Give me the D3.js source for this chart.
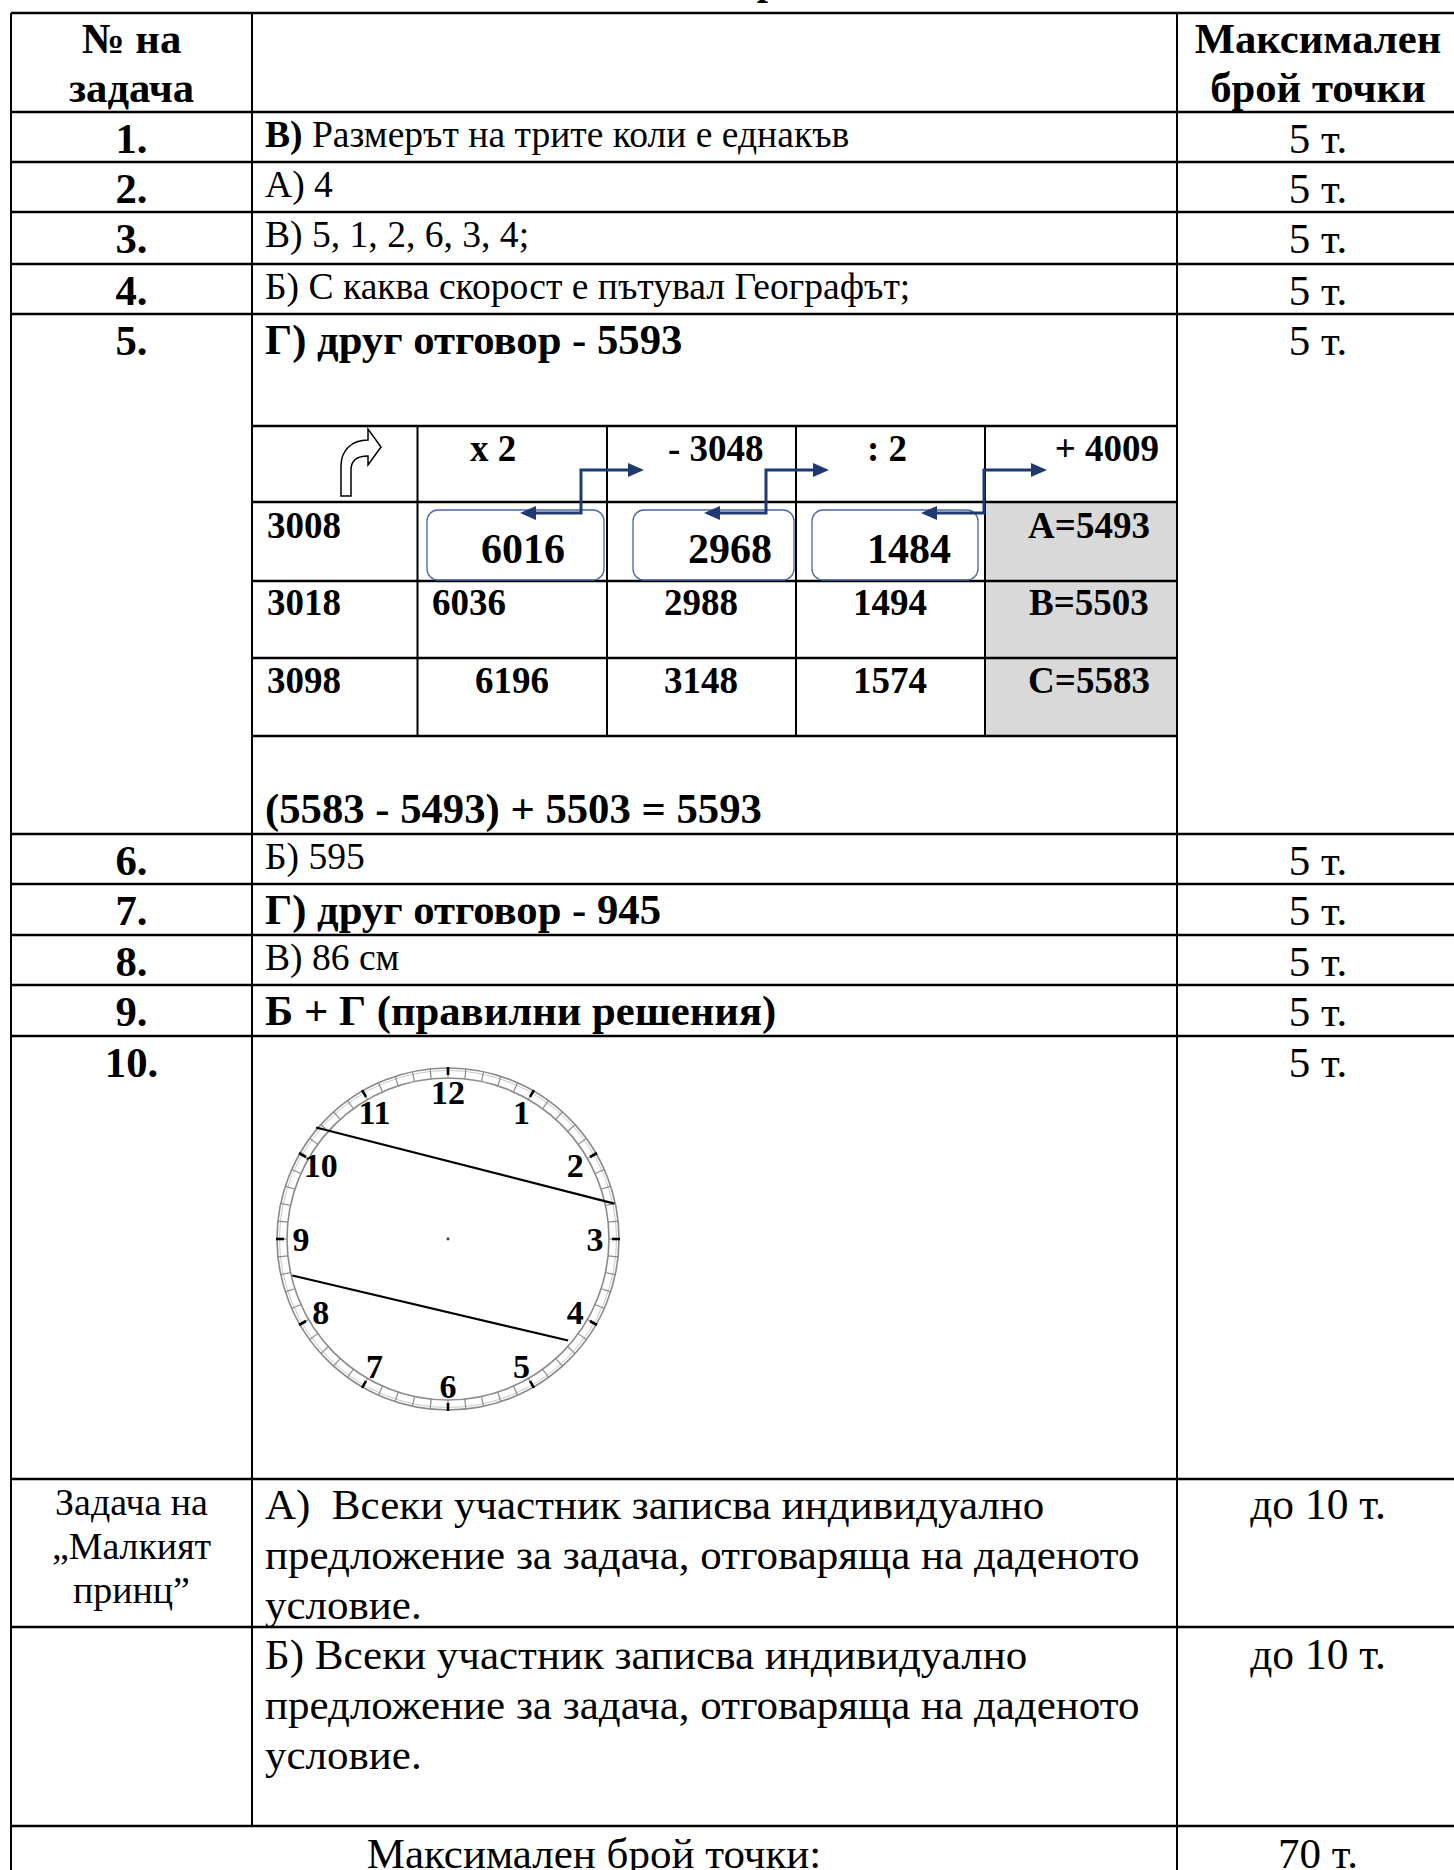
<!DOCTYPE html>
<html><head><meta charset="utf-8">
<script src="https://cdn.jsdelivr.net/npm/d3@7"></script>
<style>
html,body{margin:0;padding:0;background:#fff;overflow:hidden}
svg{display:block}
text{font-family:"Liberation Serif","Times New Roman",serif;white-space:pre;fill:#000}
</style>
</head><body><svg id="c"></svg>
<script>
// ---------------- DATA ----------------
const titleText = "Отговори";
const headerLeft = ["№ на", "задача"];
const headerRight = ["Максимален", "брой точки"];
const taskLabels = ["1.", "2.", "3.", "4.", "5.", "6.", "7.", "8.", "9.", "10."];
const answers = [
  [["В)", true], [" Размерът на трите коли е еднакъв", false]],
  [["А) 4", false]],
  [["В) 5, 1, 2, 6, 3, 4;", false]],
  [["Б) С каква скорост е пътувал Географът;", false]],
  [["Г) друг отговор - 5593", true]],
  [["Б) 595", false]],
  [["Г) друг отговор - 945", true]],
  [["В) 86 см", false]],
  [["Б + Г (правилни решения)", true]],
  []
];
const taskPoints = ["5 т.", "5 т.", "5 т.", "5 т.", "5 т.", "5 т.", "5 т.", "5 т.", "5 т.", "5 т."];
const equation = "(5583 - 5493) + 5503 = 5593";
const operations = ["x 2", "- 3048", ": 2", "+ 4009"];
const startValues = ["3008", "3018", "3098"];
const doubledValues = ["6016", "6036", "6196"];
const subtractedValues = ["2968", "2988", "3148"];
const halvedValues = ["1484", "1494", "1574"];
const resultValues = ["A=5493", "B=5503", "C=5583"];
const clockHours = [1, 2, 3, 4, 5, 6, 7, 8, 9, 10, 11, 12];
const chordStartMinute = [51.7, 42.8];
const chordEndMinute = [13.0, 21.7];
const bonusLabel = ["Задача на", "„Малкият", "принц”"];
const bonusA = ["А)  Всеки участник записва индивидуално", "предложение за задача, отговаряща на даденото", "условие."];
const bonusB = ["Б) Всеки участник записва индивидуално", "предложение за задача, отговаряща на даденото", "условие."];
const bonusPoints = ["до 10 т.", "до 10 т."];
const totalLabel = "Максимален брой точки:";
const totalPoints = "70 т.";

// ---------------- LAYOUT ----------------
const W = 1454, H = 1870;
const colX = [11, 252, 1177, 1459];
const rowY = [13, 112, 162, 212, 264, 314, 834, 884, 935, 985, 1036, 1479, 1627, 1826, 1900];
const c0 = (colX[0] + colX[1]) / 2, c2 = 1318, textX = 265;
const innerCols = [252, 417.5, 607, 796, 985, 1176];
const innerRows = [426, 502, 581, 658, 736];
const fsReg = 37.6, fsBold = 42.7, fsBig = 43;

const svg = d3.select("#c").attr("width", W).attr("height", H);
svg.append("rect").attr("width", W).attr("height", H).attr("fill", "#fff");

function txt(g, x, y, s, size, bold, anchor) {
  return g.append("text").attr("x", x).attr("y", y)
    .attr("font-size", size).attr("font-weight", bold ? "bold" : "normal")
    .attr("text-anchor", anchor || "start").text(s);
}

// title (cut off at top, as in the reference)
const tt = txt(svg, 0, -6, titleText, 40, true, "start");
(function () {
  const n = tt.node();
  const idx = titleText.indexOf("р");
  const off = n.getSubStringLength(0, idx) + n.getSubStringLength(idx, 1) / 2;
  tt.attr("x", 768 - off);
})();

// ---- inner table shading
const ix = d3.scaleOrdinal().domain(d3.range(innerCols.length)).range(innerCols);
const iy = d3.scaleOrdinal().domain(d3.range(innerRows.length)).range(innerRows);
svg.append("g").selectAll("rect").data(resultValues).join("rect")
  .attr("x", ix(4)).attr("y", (d, i) => iy(i + 1))
  .attr("width", ix(5) - ix(4)).attr("height", (d, i) => iy(i + 2) - iy(i + 1))
  .attr("fill", "#d9d9d9");

// ---- outer grid
const grid = svg.append("g").attr("stroke", "#000");
grid.selectAll("line.h").data(rowY.slice(0, -1)).join("line").attr("class", "h")
  .attr("x1", colX[0]).attr("x2", colX[3]).attr("y1", d => d).attr("y2", d => d)
  .attr("stroke-width", 2.6);
const vlines = [[colX[0], rowY[0], H], [colX[1], rowY[0], rowY[13]], [colX[2], rowY[0], H]];
grid.selectAll("line.v").data(vlines).join("line").attr("class", "v")
  .attr("x1", d => d[0]).attr("x2", d => d[0]).attr("y1", d => d[1]).attr("y2", d => d[2])
  .attr("stroke-width", 2);

// ---- inner grid
const ig = svg.append("g").attr("stroke", "#000");
ig.selectAll("line.h").data(innerRows).join("line").attr("class", "h")
  .attr("x1", innerCols[0]).attr("x2", innerCols[5]).attr("y1", d => d).attr("y2", d => d)
  .attr("stroke-width", 2.4);
ig.selectAll("line.v").data(innerCols.slice(1, 5)).join("line").attr("class", "v")
  .attr("x1", d => d).attr("x2", d => d).attr("y1", innerRows[0]).attr("y2", innerRows[4])
  .attr("stroke-width", 2);

// ---- header
const T = svg.append("g");
headerLeft.forEach((s, i) => txt(T, c0, 53 + i * 49, s, fsBold, true, "middle"));
headerRight.forEach((s, i) => txt(T, c2, 53 + i * 49, s, fsBold, true, "middle"));

// ---- task rows
taskLabels.forEach((s, i) => {
  const top = rowY[i + 1];
  txt(T, c0, top + 41, s, fsBold, true, "middle");
  txt(T, c2, top + 41, taskPoints[i], fsBig, false, "middle");
  const segs = answers[i];
  if (segs.length) {
    const allBold = segs.every(d => d[1]);
    const t = T.append("text").attr("x", textX).attr("y", top + (allBold ? 40 : 35))
      .attr("font-size", allBold ? fsBold : fsReg);
    segs.forEach(d => t.append("tspan").attr("font-weight", d[1] ? "bold" : "normal").text(d[0]));
  }
});
txt(T, textX, 823, equation, fsBold, true, "start");

// ---- inner table contents
const I = svg.append("g");
const opAnchor = [["start", 470], ["start", 668], ["middle", 887], ["end", 1159]];
operations.forEach((s, i) => txt(I, opAnchor[i][1], 461, s, 37, true, opAnchor[i][0]));
const rowBase = [538, 615, 693];
startValues.forEach((s, i) => txt(I, ix(0) + 15, rowBase[i], s, 37, true, "start"));
resultValues.forEach((s, i) => txt(I, 1089, rowBase[i], s, 37, true, "middle"));
// row 1 boxed values
const boxes = [[427, 604], [633, 794], [812, 978]];
I.selectAll("rect.box").data(boxes).join("rect").attr("class", "box")
  .attr("x", d => d[0]).attr("y", 510).attr("width", d => d[1] - d[0]).attr("height", 70)
  .attr("rx", 11).attr("fill", "none").attr("stroke", "#4468a8").attr("stroke-width", 1.3);
const boxedCenters = [523, 730, 909];
[doubledValues[0], subtractedValues[0], halvedValues[0]].forEach((s, i) =>
  txt(I, boxedCenters[i], 563, s, 42, true, "middle"));
txt(I, 432, rowBase[1], doubledValues[1], 37, true, "start");
txt(I, 512, rowBase[2], doubledValues[2], 37, true, "middle");
[subtractedValues, halvedValues].forEach((arr, k) => {
  [1, 2].forEach(r => txt(I, [701, 890][k], rowBase[r], arr[r], 37, true, "middle"));
});

// connector arrows
const arrows = [[520, 581, 644], [704, 766, 829], [921, 984, 1047]];
const yLow = 513, yHigh = 470, navy = "#1f3a70";
arrows.forEach(a => {
  I.append("path").attr("d", `M${a[0] + 12},${yLow}H${a[1]}V${yHigh}H${a[2] - 12}`)
    .attr("fill", "none").attr("stroke", navy).attr("stroke-width", 3);
  I.append("path").attr("d", `M${a[0]},${yLow}L${a[0] + 16},${yLow - 7}L${a[0] + 16},${yLow + 7}Z`).attr("fill", navy);
  I.append("path").attr("d", `M${a[2]},${yHigh}L${a[2] - 16},${yHigh - 7}L${a[2] - 16},${yHigh + 7}Z`).attr("fill", navy);
});
// turn-right arrow icon
I.append("path").attr("transform", "translate(318,420)")
  .attr("d", "M23,76L23,46C23,30,34,20,50,20L50,9L63,27L50,45L50,36C40,36,33,40,33,50L33,76Z")
  .attr("fill", "#fff").attr("stroke", "#000").attr("stroke-width", 1.5).attr("stroke-linejoin", "miter");

// ---- clock
const cx = 448, cy = 1239, R = 171;
const ang = d3.scaleLinear().domain([0, 60]).range([0, 2 * Math.PI]);
const pt = (m, r) => [cx + r * Math.sin(ang(m)), cy - r * Math.cos(ang(m))];
const C = svg.append("g");
C.append("circle").attr("cx", cx).attr("cy", cy).attr("r", R).attr("fill", "none").attr("stroke", "#8a8a8a").attr("stroke-width", 1.6);
C.append("circle").attr("cx", cx).attr("cy", cy).attr("r", R - 2.5).attr("fill", "none").attr("stroke", "#c8c8c8").attr("stroke-width", 1);
C.append("circle").attr("cx", cx).attr("cy", cy).attr("r", R - 10).attr("fill", "none").attr("stroke", "#8a8a8a").attr("stroke-width", 1.6);
C.selectAll("line.m").data(d3.range(60)).join("line").attr("class", "m")
  .attr("x1", d => pt(d, R - 10)[0]).attr("y1", d => pt(d, R - 10)[1])
  .attr("x2", d => pt(d, R)[0]).attr("y2", d => pt(d, R)[1])
  .attr("stroke", "#8a8a8a").attr("stroke-width", 1.2);
C.selectAll("line.hr").data(clockHours).join("line").attr("class", "hr")
  .attr("x1", d => pt(d * 5, R - 7)[0]).attr("y1", d => pt(d * 5, R - 7)[1])
  .attr("x2", d => pt(d * 5, R + 1)[0]).attr("y2", d => pt(d * 5, R + 1)[1])
  .attr("stroke", "#000").attr("stroke-width", 2.6);
C.selectAll("text").data(clockHours).join("text")
  .attr("x", d => pt(d * 5, 147)[0]).attr("y", d => pt(d * 5, 147)[1])
  .attr("dy", "0.35em").attr("text-anchor", "middle")
  .attr("font-size", 34).attr("font-weight", "bold").text(d => d);
C.append("circle").attr("cx", cx).attr("cy", cy).attr("r", 1.4).attr("fill", "#333");
const chordR = [[1.01, 0.995], [0.935, 0.92]];
chordStartMinute.forEach((m, i) => {
  const a = pt(m, R * chordR[i][0]), b = pt(chordEndMinute[i], R * chordR[i][1]);
  C.append("line").attr("x1", a[0]).attr("y1", a[1]).attr("x2", b[0]).attr("y2", b[1])
    .attr("stroke", "#000").attr("stroke-width", 2.2);
});

// ---- bonus rows
const B = svg.append("g");
bonusLabel.forEach((s, i) => txt(B, c0, 1515 + i * 44, s, 37.9, false, "middle"));
bonusA.forEach((s, i) => txt(B, textX, 1519 + i * 50, s, fsBig, false, "start"));
bonusB.forEach((s, i) => txt(B, textX, 1669 + i * 50, s, fsBig, false, "start"));
bonusPoints.forEach((s, i) => txt(B, c2, [1519, 1669][i], s, 43.5, false, "middle"));
txt(B, (colX[0] + colX[2]) / 2, 1868, totalLabel, fsBig, false, "middle");
txt(B, c2, 1868, totalPoints, fsBig, false, "middle");
</script></body></html>
